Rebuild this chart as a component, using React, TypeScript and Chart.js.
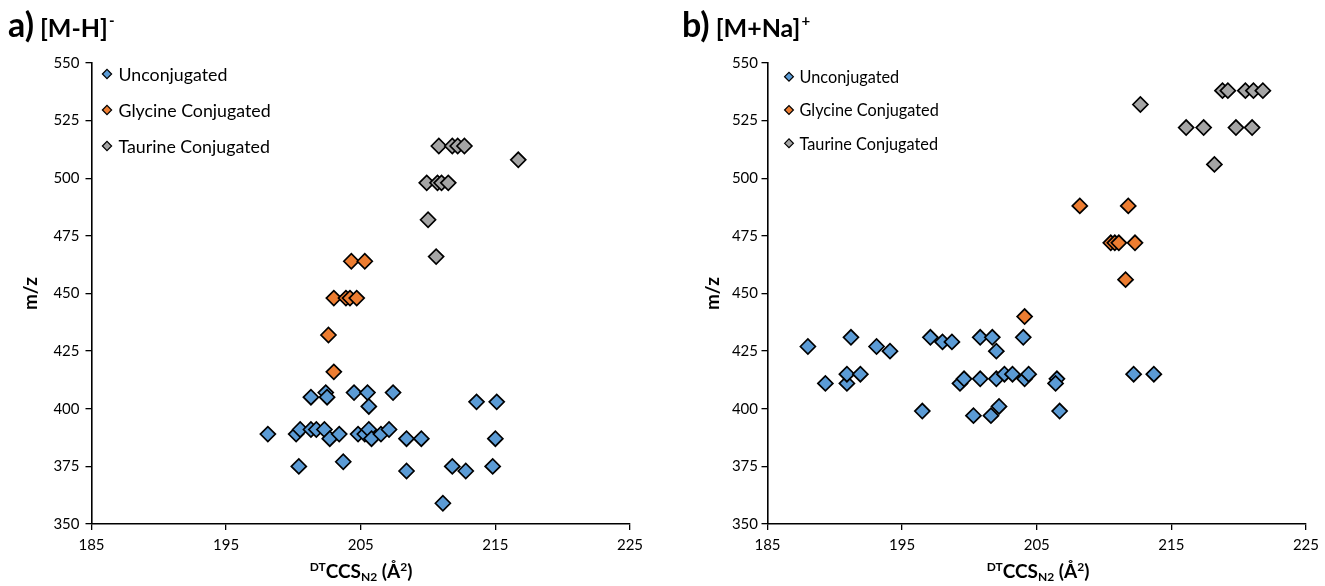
import React, { useEffect, useRef } from 'react';
import { Chart, registerables } from 'chart.js';

Chart.register(...registerables);

// ---------- data ----------
const seriesLabels = ['Unconjugated', 'Glycine Conjugated', 'Taurine Conjugated'];
const xTickValues = [185, 195, 205, 215, 225];
const yTickValues = [350, 375, 400, 425, 450, 475, 500, 525, 550];

// a) [M-H]-
const unconjA_x = [198.1, 200.2, 200.5, 200.4, 201.3, 201.3, 201.7, 202.3, 202.4, 202.5, 202.7, 203.4, 203.7, 204.5, 204.8, 205.3, 205.5, 205.6, 205.6, 205.8, 206.5, 207.1, 207.4, 208.4, 208.4, 209.5, 211.1, 211.8, 212.8, 213.6, 215.1, 215.0, 214.8];
const unconjA_y = [389, 389, 391, 375, 405, 391, 391, 391, 407, 405, 387, 389, 377, 407, 389, 389, 407, 401, 391, 387, 389, 391, 407, 387, 373, 387, 359, 375, 373, 403, 403, 387, 375];
const glycA_x = [204.3, 205.3, 203.0, 203.9, 204.2, 204.7, 202.6, 203.0];
const glycA_y = [464, 464, 448, 448, 448, 448, 432, 416];
const taurA_x = [210.8, 211.8, 212.2, 212.7, 216.7, 209.9, 210.7, 211.0, 211.5, 210.0, 210.6];
const taurA_y = [514, 514, 514, 514, 508, 498, 498, 498, 498, 482, 466];

// b) [M+Na]+
const unconjB_x = [188.0, 189.3, 190.9, 190.9, 191.2, 191.9, 193.1, 194.1, 196.5, 197.1, 198.0, 198.7, 199.3, 199.6, 200.3, 200.8, 200.8, 201.7, 201.6, 202.0, 202.0, 202.2, 202.6, 203.2, 204.0, 204.1, 204.4, 206.5, 206.4, 206.7, 212.2, 213.7];
const unconjB_y = [427, 411, 411, 415, 431, 415, 427, 425, 399, 431, 429, 429, 411, 413, 397, 413, 431, 431, 397, 425, 413, 401, 415, 415, 431, 413, 415, 413, 411, 399, 415, 415];
const glycB_x = [204.1, 208.2, 211.8, 210.5, 210.8, 211.1, 212.3, 211.6];
const glycB_y = [440, 488, 488, 472, 472, 472, 472, 456];
const taurB_x = [212.7, 218.8, 219.2, 220.5, 221.1, 221.8, 216.1, 217.4, 219.8, 221.0, 218.2];
const taurB_y = [532, 538, 538, 538, 538, 538, 522, 522, 522, 522, 506];

// ---------- styles ----------
const COLORS = ['#5B9BD5', '#ED7D31', '#A5A5A5'];
const FONT = 'Lato, "Open Sans", sans-serif';
const H = 586;

type Series = { x: number[]; y: number[] };
type LegendCfg = { dx: number; y0: number; dy: number; r: number; tx: number; size: number };

function insideLegend(cfg: LegendCfg) {
  return {
    id: 'insideLegend',
    afterDraw(chart: any) {
      const ctx = chart.ctx;
      const area = chart.chartArea;
      ctx.save();
      chart.data.datasets.forEach((ds: any, i: number) => {
        const cy = cfg.y0 + i * cfg.dy;
        const cx = area.left + cfg.dx;
        const r = cfg.r;
        ctx.beginPath();
        ctx.moveTo(cx - r, cy);
        ctx.lineTo(cx, cy - r);
        ctx.lineTo(cx + r, cy);
        ctx.lineTo(cx, cy + r);
        ctx.closePath();
        ctx.fillStyle = ds.pointBackgroundColor;
        ctx.fill();
        ctx.lineWidth = 1.2;
        ctx.strokeStyle = '#000';
        ctx.stroke();
        ctx.fillStyle = '#000';
        ctx.font = `${cfg.size}px ${FONT}`;
        ctx.textBaseline = 'middle';
        ctx.textAlign = 'left';
        ctx.fillText(ds.label, area.left + cfg.tx, cy + 1);
      });
      ctx.restore();
    },
  };
}

type PanelProps = {
  left: number;
  width: number;
  series: Series[];
  areaLeft: number;
  rightPad: number;
  yTitlePad: number;
  yTickPad: number;
  legend: LegendCfg;
};

function Panel({ left, width, series, areaLeft, rightPad, yTitlePad, yTickPad, legend }: PanelProps) {
  const ref = useRef<HTMLCanvasElement>(null);
  useEffect(() => {
    const chart = new Chart(ref.current as HTMLCanvasElement, {
      type: 'scatter',
      data: {
        datasets: series.map((s, i) => ({
          label: seriesLabels[i],
          data: s.x.map((x, j) => ({ x, y: s.y[j] })),
          pointStyle: 'rectRot',
          pointRadius: 7.5,
          pointHoverRadius: 7.5,
          pointBackgroundColor: COLORS[i],
          pointBorderColor: '#000',
          pointBorderWidth: 1.7,
          backgroundColor: COLORS[i],
          borderColor: '#000',
        })),
      },
      options: {
        animation: false,
        responsive: false,
        maintainAspectRatio: false,
        events: [],
        layout: { padding: { left: 0, top: 63, right: rightPad, bottom: 0 } },
        plugins: { legend: { display: false }, tooltip: { enabled: false } },
        scales: {
          x: {
            type: 'linear',
            min: 185,
            max: 225,
            afterBuildTicks: (s: any) => {
              s.ticks = xTickValues.map((v) => ({ value: v }));
            },
            afterFit: (s: any) => {
              s.height = H - 524;
            },
            grid: { drawOnChartArea: false, drawTicks: true, tickLength: 6, color: '#000', lineWidth: 1.3 },
            border: { display: true, color: '#000', width: 1.6 },
            ticks: { color: '#000', font: { family: FONT, size: 15 }, padding: 6, maxRotation: 0, autoSkip: false },
          },
          y: {
            type: 'linear',
            min: 350,
            max: 550,
            afterBuildTicks: (s: any) => {
              s.ticks = yTickValues.map((v) => ({ value: v }));
            },
            afterFit: (s: any) => {
              s.width = areaLeft;
            },
            grid: { drawOnChartArea: false, drawTicks: true, tickLength: 6, color: '#000', lineWidth: 1.3 },
            border: { display: true, color: '#000', width: 1.6 },
            ticks: { color: '#000', font: { family: FONT, size: 15 }, padding: yTickPad, autoSkip: false },
            title: {
              display: true,
              text: 'm/z',
              color: '#000',
              font: { family: FONT, size: 19, weight: 'bold' },
              padding: { top: yTitlePad, bottom: 0 },
            },
          },
        },
      } as any,
      plugins: [insideLegend(legend)],
    });
    return () => chart.destroy();
  }, []);
  return (
    <canvas
      ref={ref}
      width={width}
      height={H}
      style={{ position: 'absolute', left, top: 0, width, height: H, display: 'block' }}
    />
  );
}

function PanelTitle({ left, letter, ion, charge }: { left: number; letter: string; ion: string; charge: string }) {
  return (
    <div
      style={{
        position: 'absolute',
        left,
        top: 7,
        fontFamily: FONT,
        fontWeight: 700,
        color: '#000',
        whiteSpace: 'nowrap',
        lineHeight: 1,
      }}
    >
      <span style={{ fontSize: 34 }}>{letter}</span>
      <span style={{ fontSize: 25, marginLeft: 6 }}>{ion}</span>
      <span style={{ fontSize: 15, position: 'relative', top: -11, marginLeft: 1 }}>{charge}</span>
    </div>
  );
}

function XTitle({ center }: { center: number }) {
  return (
    <div
      style={{
        position: 'absolute',
        left: center - 150,
        width: 300,
        top: 561,
        textAlign: 'center',
        fontFamily: FONT,
        fontWeight: 700,
        fontSize: 19,
        color: '#000',
        whiteSpace: 'nowrap',
        lineHeight: 1,
      }}
    >
      <span style={{ fontSize: 12, position: 'relative', top: -7 }}>DT</span>
      <span>CCS</span>
      <span style={{ fontSize: 12, position: 'relative', top: 3 }}>N2</span>
      <span> (Å</span>
      <span style={{ fontSize: 12, position: 'relative', top: -7 }}>2</span>
      <span>)</span>
    </div>
  );
}

export default function App() {
  const seriesA: Series[] = [
    { x: unconjA_x, y: unconjA_y },
    { x: glycA_x, y: glycA_y },
    { x: taurA_x, y: taurA_y },
  ];
  const seriesB: Series[] = [
    { x: unconjB_x, y: unconjB_y },
    { x: glycB_x, y: glycB_y },
    { x: taurB_x, y: taurB_y },
  ];
  return (
    <div style={{ position: 'absolute', left: 0, top: 0, width: 1325, height: H, background: '#fff', overflow: 'hidden' }}>
      <Panel
        left={0}
        width={662}
        series={seriesA}
        areaLeft={91.5}
        rightPad={32}
        yTitlePad={19}
        yTickPad={6}
        legend={{ dx: 15.5, y0: 74, dy: 36, r: 4.6, tx: 27, size: 17.8 }}
      />
      <Panel
        left={662}
        width={663}
        series={seriesB}
        areaLeft={105.5}
        rightPad={15.7}
        yTitlePad={39}
        yTickPad={3.5}
        legend={{ dx: 21.5, y0: 76.7, dy: 33.3, r: 4.4, tx: 32, size: 16.3 }}
      />
      <PanelTitle left={8} letter="a)" ion="[M-H]" charge="-" />
      <PanelTitle left={682} letter="b)" ion="[M+Na]" charge="+" />
      <XTitle center={361} />
      <XTitle center={1038} />
    </div>
  );
}
